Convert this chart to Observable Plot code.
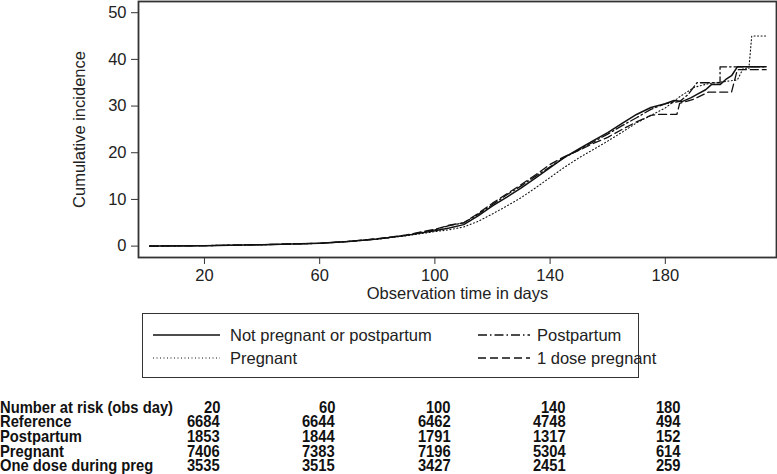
<!DOCTYPE html>
<html><head><meta charset="utf-8">
<script src="https://cdn.jsdelivr.net/npm/d3@7"></script>
<script src="https://cdn.jsdelivr.net/npm/@observablehq/plot@0.6"></script>
<style>
body{margin:0;background:#fff;}
#wrap{position:relative;width:777px;height:474px;font-family:"Liberation Sans",Arial,Helvetica,sans-serif;color:#222;overflow:hidden;}
#chart{position:absolute;left:0;top:0;}
#legend{position:absolute;left:142px;top:313px;width:497px;height:65px;border:1px solid #333;box-sizing:border-box;}
.item{position:absolute;font-size:16.5px;line-height:18px;white-space:nowrap;color:#222;}
.item svg{position:absolute;top:3px;}
.risk{position:absolute;font-family:"Liberation Sans",Arial,sans-serif;font-weight:bold;font-size:16.5px;line-height:14px;height:14px;white-space:nowrap;color:#111;}
</style></head>
<body><div id="wrap"><div id="chart"></div><div id="legend"></div></div>
<script>
// ---- data ----
const seriesNames = ["Not pregnant or postpartum", "Pregnant", "Postpartum", "1 dose pregnant"];

const notPregDays = [1,20,40,60,70,80,90,100,105,110,115,120,125,130,135,140,145,150,155,160,165,170,175,180,183,186,189,191,194,196,199,201,203,205,215];
const notPregVals = [0,0.1,0.3,0.6,1.0,1.5,2.3,3.3,3.9,4.6,6.5,8.6,10.5,12.5,14.6,16.8,19.0,20.8,22.6,24.3,26.3,28.2,29.7,30.5,31.2,31.0,31.8,32.5,33.5,34.6,34.6,35.7,36.5,38.4,38.4];

const pregDays = [1,20,40,60,70,80,90,100,105,110,115,120,125,130,135,140,145,150,155,160,165,170,175,180,185,190,195,200,205,207,209,210,215];
const pregVals = [0,0.1,0.3,0.6,1.0,1.5,2.2,3.1,3.5,4.1,5.3,6.9,8.6,10.4,12.5,14.7,16.9,18.9,20.7,22.5,24.4,26.4,28.0,29.6,32.0,34.0,34.8,35.2,35.6,38.0,38.0,45.0,45.0];

const postDays = [1,20,40,60,70,80,90,100,105,110,115,120,125,130,135,140,145,150,155,160,165,170,175,180,185,188,191,199,199,215];
const postVals = [0,0.1,0.3,0.6,1.0,1.5,2.3,3.5,4.4,5.0,6.8,8.9,11.0,12.9,15.0,17.0,19.0,20.6,22.3,24.0,25.8,27.5,29.3,30.5,31.0,32.5,35.0,35.0,38.4,38.4];

const oneDoseDays = [1,20,40,60,70,80,90,100,105,110,115,120,125,130,135,140,145,150,155,160,165,170,175,177,184,185,190,195,203,205,215];
const oneDoseVals = [0,0.1,0.3,0.6,1.0,1.6,2.4,3.6,4.5,5.0,7.0,9.2,11.2,13.2,15.3,17.5,19.2,20.5,22.0,23.3,25.0,26.6,28.0,28.2,28.2,30.6,31.5,33.0,33.0,37.8,37.8];

const xTicks = [20, 60, 100, 140, 180];
const yTicks = [0, 10, 20, 30, 40, 50];

const riskHeader = "Number at risk (obs day)";
const riskGroups = ["Reference", "Postpartum", "Pregnant", "One dose during preg"];
const riskReference = [6684, 6644, 6462, 4748, 494];
const riskPostpartum = [1853, 1844, 1791, 1317, 152];
const riskPregnant = [7406, 7383, 7196, 5304, 614];
const riskOneDose = [3535, 3515, 3427, 2451, 259];

// ---- build ----
const toRows = (days, vals) => days.map((d, i) => ({day: d, value: vals[i]}));
const styles = [
  {rows: toRows(notPregDays, notPregVals), dash: null, width: 1.5},
  {rows: toRows(pregDays, pregVals), dash: "1,2.5", width: 1.1},
  {rows: toRows(postDays, postVals), dash: "9,3,1.5,3", width: 1.3},
  {rows: toRows(oneDoseDays, oneDoseVals), dash: "8,4", width: 1.3}
];

const chart = Plot.plot({
  width: 777,
  height: 310,
  marginLeft: 138,
  marginRight: 1,
  marginTop: 1,
  marginBottom: 53,
  style: {fontFamily: '"Liberation Sans", Arial, Helvetica, sans-serif', fontSize: "16.5px", color: "#222", background: "#fff"},
  x: {domain: [-2.9, 218.6]},
  y: {domain: [-2.44, 52.4]},
  marks: [
    Plot.frame({stroke: "#333", strokeWidth: 1.8}),
    Plot.axisY({ticks: yTicks, tickSize: 7, tickPadding: 5, fontSize: 16.5, label: null, stroke: "#333"}),
    Plot.axisX({ticks: xTicks, tickSize: 7, tickPadding: 5, fontSize: 16.5, label: null, stroke: "#333"}),
    Plot.text(["Cumulative incidence"], {frameAnchor: "left", dx: -59, rotate: -90, textAnchor: "middle", fontSize: 16.5, fill: "#222"}),
    Plot.text(["Observation time in days"], {frameAnchor: "bottom", dy: 41, fontSize: 16.5, fill: "#222"}),
    ...styles.map(s => Plot.line(s.rows, {x: "day", y: "value", stroke: "#111", strokeWidth: s.width, strokeDasharray: s.dash, curve: "linear"}))
  ]
});
document.getElementById("chart").appendChild(chart);

// ---- legend ----
const legend = document.getElementById("legend");
const legPos = [
  {x: 6, y: 12, len: 67, pad: 81},
  {x: 6, y: 35, len: 67, pad: 81},
  {x: 331, y: 12, len: 52, pad: 63},
  {x: 331, y: 35, len: 52, pad: 63}
];
seriesNames.forEach((name, i) => {
  const p = legPos[i];
  const s = styles[i];
  const div = document.createElement("div");
  div.className = "item";
  div.style.left = p.x + "px";
  div.style.top = p.y + "px";
  div.style.paddingLeft = p.pad + "px";
  const svg = d3.create("svg").attr("width", p.len + 2).attr("height", 12).style("left", "4px");
  svg.append("line").attr("x1", 0).attr("x2", p.len).attr("y1", 6).attr("y2", 6)
    .attr("stroke", "#111").attr("stroke-width", s.width)
    .attr("stroke-dasharray", s.dash);
  div.appendChild(svg.node());
  div.appendChild(document.createTextNode(name));
  legend.appendChild(div);
});

// ---- risk table ----
const wrap = document.getElementById("wrap");
const xs = chart.scale("x");
const rowTop = [399.5, 414.2, 428.9, 443.6, 458.3];
const tableRows = [
  [riskHeader, xTicks],
  [riskGroups[0], riskReference],
  [riskGroups[1], riskPostpartum],
  [riskGroups[2], riskPregnant],
  [riskGroups[3], riskOneDose]
];
const cells = [];
tableRows.forEach(([label, vals], r) => {
  const l = document.createElement("div");
  l.className = "risk";
  l.style.left = "0px";
  l.style.top = rowTop[r] + "px";
  l.style.transformOrigin = "left center";
  l.textContent = label;
  wrap.appendChild(l);
  cells.push(l);
  vals.forEach((v, c) => {
    const d = document.createElement("div");
    d.className = "risk";
    d.style.right = (777 - (xs.apply(xTicks[c]) + 16)) + "px";
    d.style.top = rowTop[r] + "px";
    d.style.transformOrigin = "right center";
    d.textContent = v;
    wrap.appendChild(d);
    cells.push(d);
  });
});
// condensed look: scale so the header spans the same width as in the reference
const headerWidth = cells[0].getBoundingClientRect().width;
const k = Math.min(1, 173 / headerWidth);
cells.forEach(c => { c.style.transform = `scaleX(${k})`; });
</script></body></html>
